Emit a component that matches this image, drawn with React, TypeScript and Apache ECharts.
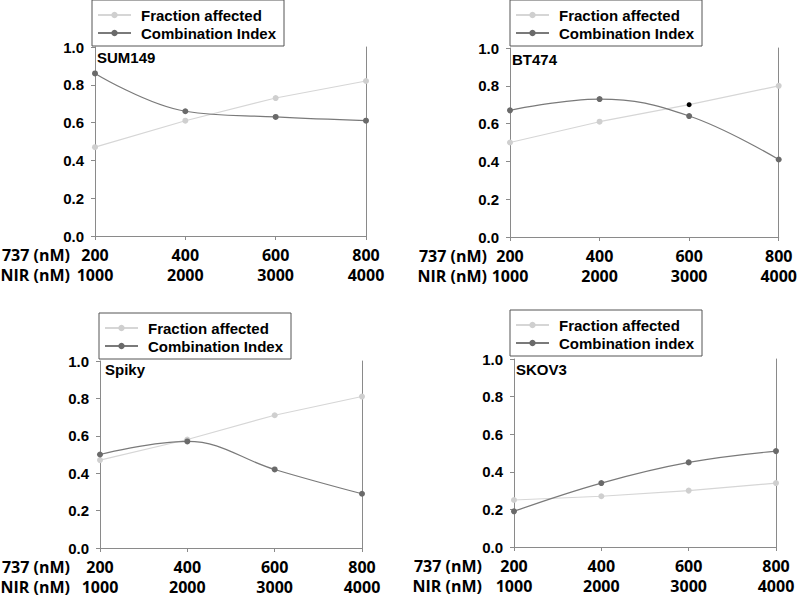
import React, { useEffect, useRef } from "react";
import * as echarts from "echarts";

// ---- data ----
const dose737 = [200, 400, 600, 800];
const doseNIR = [1000, 2000, 3000, 4000];
const panelNames = ["SUM149", "BT474", "Spiky", "SKOV3"];
const faSUM149 = [0.47, 0.61, 0.73, 0.82];
const ciSUM149 = [0.86, 0.66, 0.63, 0.61];
const faBT474 = [0.5, 0.61, 0.7, 0.8];
const ciBT474 = [0.67, 0.73, 0.64, 0.41];
const faSpiky = [0.47, 0.58, 0.71, 0.81];
const ciSpiky = [0.5, 0.57, 0.42, 0.29];
const faSKOV3 = [0.25, 0.27, 0.3, 0.34];
const ciSKOV3 = [0.19, 0.34, 0.45, 0.51];
const faName = "Fraction affected";
const ciNames = ["Combination Index", "Combination Index", "Combination Index", "Combination index"];
const faSets = [faSUM149, faBT474, faSpiky, faSKOV3];
const ciSets = [ciSUM149, ciBT474, ciSpiky, ciSKOV3];
const highlightedPoint = { panel: 1, index: 2 }; // black dot in BT474

// ---- layout ----
const grids = [
  { left: 95, top: 47, width: 271, height: 189 },
  { left: 510, top: 48, width: 271, height: 189 },
  { left: 100, top: 361, width: 262, height: 187 },
  { left: 514, top: 359, width: 262, height: 188 },
];
const legendPos = [
  { left: 92, top: 0 },
  { left: 510, top: 0 },
  { left: 99, top: 313 },
  { left: 510, top: 310 },
];
const titlePos = [
  { left: 97, top: 50 },
  { left: 512, top: 52 },
  { left: 105, top: 362 },
  { left: 516, top: 362 },
];
const rowLabelX = [70, 487, 70, 482];

const axisColor = "#8a8a8a";
const faLine = "#d6d6d6";
const faDot = "#cfcfcf";
const ciLine = "#7a7a7a";
const ciDot = "#6a6a6a";
const sans = "'Liberation Sans', Arial, sans-serif";
const xFont = "'Open Sans', sans-serif";

export default function App() {
  const ref = useRef<HTMLDivElement>(null);
  useEffect(() => {
    if (!ref.current) return;
    const chart = echarts.init(ref.current, null, { renderer: "svg" });

    const xAxis: any[] = [];
    const yAxis: any[] = [];
    const series: any[] = [];
    const legend: any[] = [];
    const title: any[] = [];
    const graphic: any[] = [];

    grids.forEach((g, i) => {
      xAxis.push({
        type: "value",
        gridIndex: i,
        min: 200,
        max: 800,
        interval: 200,
        axisLine: { show: true, onZero: false, lineStyle: { color: axisColor, width: 1 } },
        axisTick: { show: true, length: 4, lineStyle: { color: axisColor } },
        splitLine: { show: false },
        axisLabel: {
          margin: 9,
          formatter: (v: number) => {
            const k = dose737.indexOf(v);
            return `{a|${v}}\n{b|${k >= 0 ? doseNIR[k] : ""}}`;
          },
          rich: {
            a: { fontFamily: xFont, fontWeight: "bold", fontSize: 16, color: "#000", lineHeight: 20 },
            b: { fontFamily: xFont, fontWeight: "bold", fontSize: 16, color: "#000", lineHeight: 20 },
          },
        },
      });
      yAxis.push({
        type: "value",
        gridIndex: i,
        min: 0,
        max: 1,
        interval: 0.2,
        axisLine: { show: true, lineStyle: { color: axisColor, width: 1 } },
        axisTick: { show: true, length: 4, lineStyle: { color: axisColor } },
        splitLine: { show: false },
        axisLabel: {
          margin: 11,
          formatter: (v: number) => v.toFixed(1),
          fontFamily: sans,
          fontWeight: "bold",
          fontSize: 15,
          color: "#000",
        },
      });
      yAxis.push({
        type: "value",
        gridIndex: i,
        position: "right",
        min: 0,
        max: 1,
        interval: 0.2,
        axisLine: { show: true, lineStyle: { color: axisColor, width: 1 } },
        axisTick: { show: false },
        axisLabel: { show: false },
        splitLine: { show: false },
      });

      const faData = faSets[i].map((v, k) => {
        const item: any = { value: [dose737[k], v] };
        if (highlightedPoint.panel === i && highlightedPoint.index === k) {
          item.itemStyle = { color: "#000" };
          item.symbolSize = 5;
        }
        return item;
      });
      series.push({
        type: "line",
        name: faName,
        xAxisIndex: i,
        yAxisIndex: i * 2,
        data: faData,
        symbol: "circle",
        symbolSize: 6,
        lineStyle: { color: faLine, width: 1.2 },
        itemStyle: { color: faDot },
        z: 2,
      });
      series.push({
        type: "line",
        name: ciNames[i],
        xAxisIndex: i,
        yAxisIndex: i * 2,
        data: ciSets[i].map((v, k) => [dose737[k], v]),
        smooth: 0.4,
        symbol: "circle",
        symbolSize: 6,
        lineStyle: { color: ciLine, width: 1.2 },
        itemStyle: { color: ciDot },
        z: 3,
      });

      legend.push({
        orient: "vertical",
        left: legendPos[i].left,
        top: legendPos[i].top,
        data: [faName, ciNames[i]],
        itemWidth: 33,
        itemHeight: 8,
        itemGap: 0,
        padding: [6, 8, 4, 5],
        borderColor: "#555",
        borderWidth: 1,
        backgroundColor: "#fff",
        selectedMode: false,
        textStyle: {
          fontFamily: sans,
          fontWeight: "bold",
          fontSize: 15,
          color: "#000",
          lineHeight: 18,
          padding: [0, 0, 0, 5],
        },
      });

      title.push({
        text: panelNames[i],
        left: titlePos[i].left,
        top: titlePos[i].top,
        padding: 0,
        textStyle: { fontFamily: sans, fontWeight: "bold", fontSize: 15, color: "#000" },
      });

      const yBase = g.top + g.height;
      graphic.push({
        type: "text",
        x: rowLabelX[i],
        y: yBase + 19,
        style: {
          text: "737 (nM)",
          align: "right",
          verticalAlign: "middle",
          fontFamily: xFont,
          fontWeight: "bold",
          fontSize: 16,
          fill: "#000",
        },
      });
      graphic.push({
        type: "text",
        x: rowLabelX[i],
        y: yBase + 39,
        style: {
          text: "NIR (nM)",
          align: "right",
          verticalAlign: "middle",
          fontFamily: xFont,
          fontWeight: "bold",
          fontSize: 16,
          fill: "#000",
        },
      });
    });

    chart.setOption({
      animation: false,
      backgroundColor: "#fff",
      grid: grids.map((g) => ({ ...g, containLabel: false })),
      xAxis,
      yAxis,
      series,
      legend,
      title,
      graphic,
    });
    return () => chart.dispose();
  }, []);

  return (
    <div
      ref={ref}
      style={{ position: "absolute", left: 0, top: 0, width: 800, height: 597, background: "#fff" }}
    />
  );
}
